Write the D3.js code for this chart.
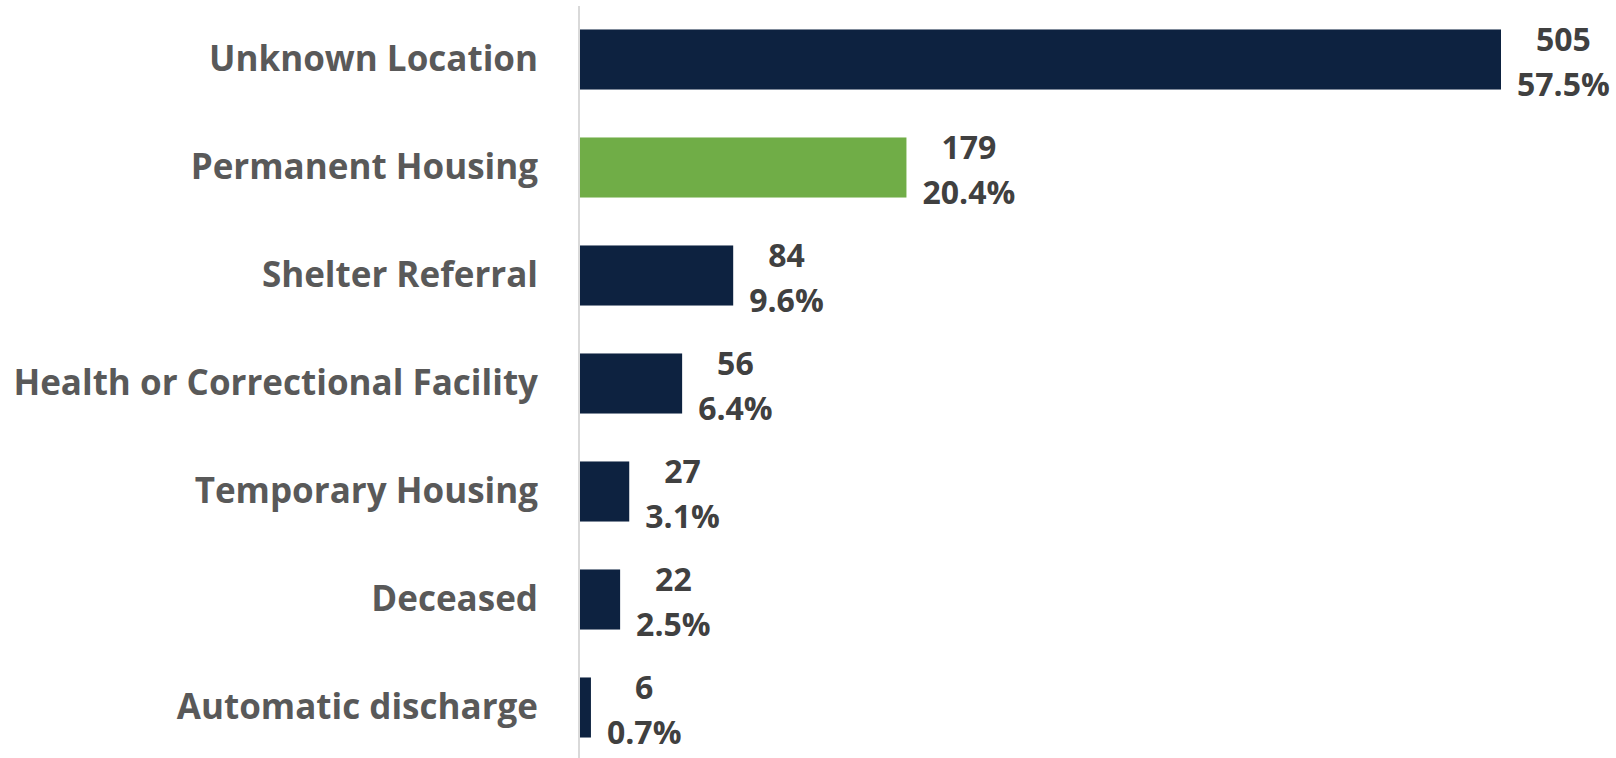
<!DOCTYPE html>
<html>
<head>
<meta charset="utf-8">
<script src="https://cdn.jsdelivr.net/npm/d3@7"></script>
<style>
  html, body { margin: 0; padding: 0; background: #ffffff; }
  svg { display: block; }
</style>
</head>
<body>
<svg id="chart" width="1616" height="758"></svg>
<script>
const categories = ["Unknown Location", "Permanent Housing", "Shelter Referral", "Health or Correctional Facility", "Temporary Housing", "Deceased", "Automatic discharge"];
const counts = [505, 179, 84, 56, 27, 22, 6];
const percents = [57.5, 20.4, 9.6, 6.4, 3.1, 2.5, 0.7];
const highlight = ["Permanent Housing"];

const svg = d3.select("#chart");
const W = 1616, H = 758;
const FONT = "'Open Sans', Lato, sans-serif";

const x = d3.scaleLinear().domain([0, 505]).range([580, 1501]);
const y = d3.scaleBand().domain(categories).range([5.5, 761.5]).paddingInner(0.444).paddingOuter(0.222);

const data = categories.map((c, i) => ({ cat: c, count: counts[i], pct: percents[i] }));

// bars
svg.append("g").selectAll("rect").data(data).join("rect")
  .attr("x", x(0))
  .attr("y", d => y(d.cat))
  .attr("width", d => x(d.count) - x(0))
  .attr("height", y.bandwidth())
  .attr("fill", d => highlight.includes(d.cat) ? "#70ad47" : "#0d2240");

// axis line
svg.append("line")
  .attr("x1", x(0) - 1).attr("x2", x(0) - 1)
  .attr("y1", 6).attr("y2", H)
  .attr("stroke", "#d9d9d9").attr("stroke-width", 2);

// category labels
svg.append("g").selectAll("text").data(data).join("text")
  .attr("x", 538)
  .attr("y", d => y(d.cat) + y.bandwidth() / 2 + 11)
  .attr("text-anchor", "end")
  .attr("font-family", FONT)
  .attr("font-weight", 700)
  .attr("font-size", 35)
  .attr("fill", "#595959")
  .text(d => d.cat);

// value labels
const lab = svg.append("g").selectAll("g").data(data).join("g");
lab.each(function(d) {
  const g = d3.select(this);
  const cy = y(d.cat) + y.bandwidth() / 2;
  const t1 = g.append("text").attr("y", cy - 9).text(d3.format("d")(d.count));
  const t2 = g.append("text").attr("y", cy + 36).text(d.pct.toFixed(1) + "%");
  g.selectAll("text")
    .attr("text-anchor", "middle")
    .attr("font-family", FONT)
    .attr("font-weight", 700)
    .attr("font-size", 32)
    .attr("fill", "#404040");
  const w = Math.max(t1.node().getComputedTextLength(), t2.node().getComputedTextLength());
  g.selectAll("text").attr("x", x(d.count) + 16 + w / 2);
});
</script>
</body>
</html>
